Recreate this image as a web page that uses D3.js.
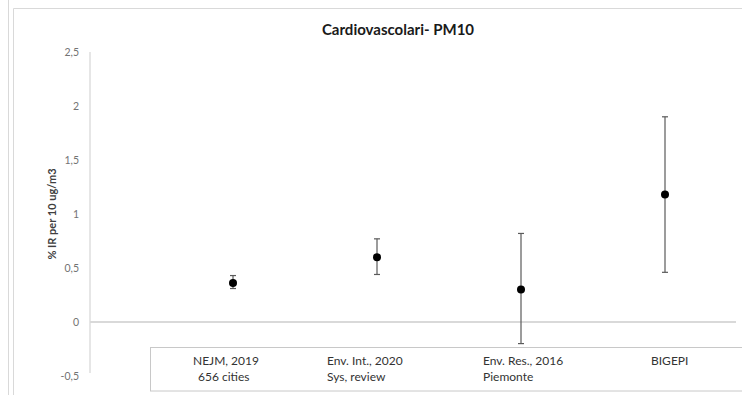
<!DOCTYPE html>
<html>
<head>
<meta charset="utf-8">
<script src="https://cdn.jsdelivr.net/npm/d3@7"></script>
<style>
  html, body { margin: 0; padding: 0; background: #fff; }
  svg { display: block; font-family: Lato, "Open Sans", sans-serif; }
</style>
</head>
<body>
<svg id="chart" width="742" height="395"></svg>
<script>
// Studies compared (x position 1..4 on the chart)
const studyTitles = ["NEJM, 2019", "Env. Int., 2020", "Env. Res., 2016", "BIGEPI"];
const studyNotes  = ["656 cities", "Sys, review", "Piemonte", ""];
// % increase in risk per 10 ug/m3 PM10, with confidence bounds
const estimates = [0.36, 0.60, 0.30, 1.18];
const lowerCI   = [0.31, 0.44, -0.20, 0.46];
const upperCI   = [0.43, 0.77, 0.82, 1.90];
// Y axis ticks and their labels (decimal comma)
const yTicks      = [-0.5, 0, 0.5, 1, 1.5, 2, 2.5];
const yTickLabels = ["-0,5", "0", "0,5", "1", "1,5", "2", "2,5"];

const svg = d3.select("#chart");
const W = 742, H = 395;

const x = d3.scaleLinear().domain([0, 4.5]).range([89, 737]);
const y = d3.scaleLinear().domain([-0.5, 2.5]).range([376, 52]);

// outer frame lines
svg.append("line").attr("x1", 8.5).attr("x2", 8.5).attr("y1", 0).attr("y2", H)
  .attr("stroke", "#d9d9d9").attr("stroke-width", 1);
svg.append("path").attr("d", `M13.5,${H} V8.5 H${W}`)
  .attr("fill", "none").attr("stroke", "#d9d9d9").attr("stroke-width", 1);

// title
svg.append("text").attr("x", 398).attr("y", 35)
  .attr("text-anchor", "middle").attr("font-size", 15).attr("font-weight", 700)
  .attr("fill", "#1a1a1a").text("Cardiovascolari- PM10");

// y axis
const yAxis = d3.axisLeft(y).tickValues(yTicks)
  .tickFormat(d => yTickLabels[yTicks.indexOf(d)])
  .tickSize(0).tickPadding(11);
const gy = svg.append("g").attr("transform", "translate(90,0)").call(yAxis);
gy.select(".domain").attr("stroke", "#d9d9d9").attr("stroke-width", 1.3)
  .attr("d", `M0,${y(2.5)}V${y(-0.5) - 3}`);
gy.selectAll("text").attr("font-size", 10.5).attr("fill", "#737373")
  .attr("font-family", "Lato, sans-serif");

// zero baseline
svg.append("line").attr("x1", 90).attr("x2", 736)
  .attr("y1", y(0)).attr("y2", y(0))
  .attr("stroke", "#d9d9d9").attr("stroke-width", 1.8);

// y axis title
svg.append("text")
  .attr("transform", `translate(56,214) rotate(-90)`)
  .attr("text-anchor", "middle").attr("font-size", 11).attr("font-weight", 700)
  .attr("fill", "#404040").text("% IR per 10 ug/m3");

// study label table
svg.append("rect").attr("x", 150.5).attr("y", 347.5).attr("width", 600).attr("height", 43.5)
  .attr("fill", "none").attr("stroke", "#c8c8c8").attr("stroke-width", 1);

const labelStart = [193, 327, 483, 651];
const labels = svg.append("g").attr("font-size", 12).attr("fill", "#333");
studyTitles.forEach((t, i) => {
  labels.append("text").attr("x", labelStart[i]).attr("y", 365).text(t);
  labels.append("text").attr("x", labelStart[i] + (i === 0 ? 5 : 0)).attr("y", 381).text(studyNotes[i]);
});

// error bars
const idx = d3.range(estimates.length);
const bars = svg.append("g").attr("stroke", "#5a5a5a").attr("stroke-width", 1.2);
bars.selectAll("line.v").data(idx).join("line").attr("class", "v")
  .attr("x1", i => x(i + 1)).attr("x2", i => x(i + 1))
  .attr("y1", i => y(lowerCI[i])).attr("y2", i => y(upperCI[i]));
bars.selectAll("line.top").data(idx).join("line").attr("class", "top")
  .attr("x1", i => x(i + 1) - 3).attr("x2", i => x(i + 1) + 3)
  .attr("y1", i => y(upperCI[i])).attr("y2", i => y(upperCI[i]));
bars.selectAll("line.bot").data(idx).join("line").attr("class", "bot")
  .attr("x1", i => x(i + 1) - 3).attr("x2", i => x(i + 1) + 3)
  .attr("y1", i => y(lowerCI[i])).attr("y2", i => y(lowerCI[i]));

// point estimates
svg.append("g").selectAll("circle").data(idx).join("circle")
  .attr("cx", i => x(i + 1)).attr("cy", i => y(estimates[i]))
  .attr("r", 4).attr("fill", "#000");
</script>
</body>
</html>
